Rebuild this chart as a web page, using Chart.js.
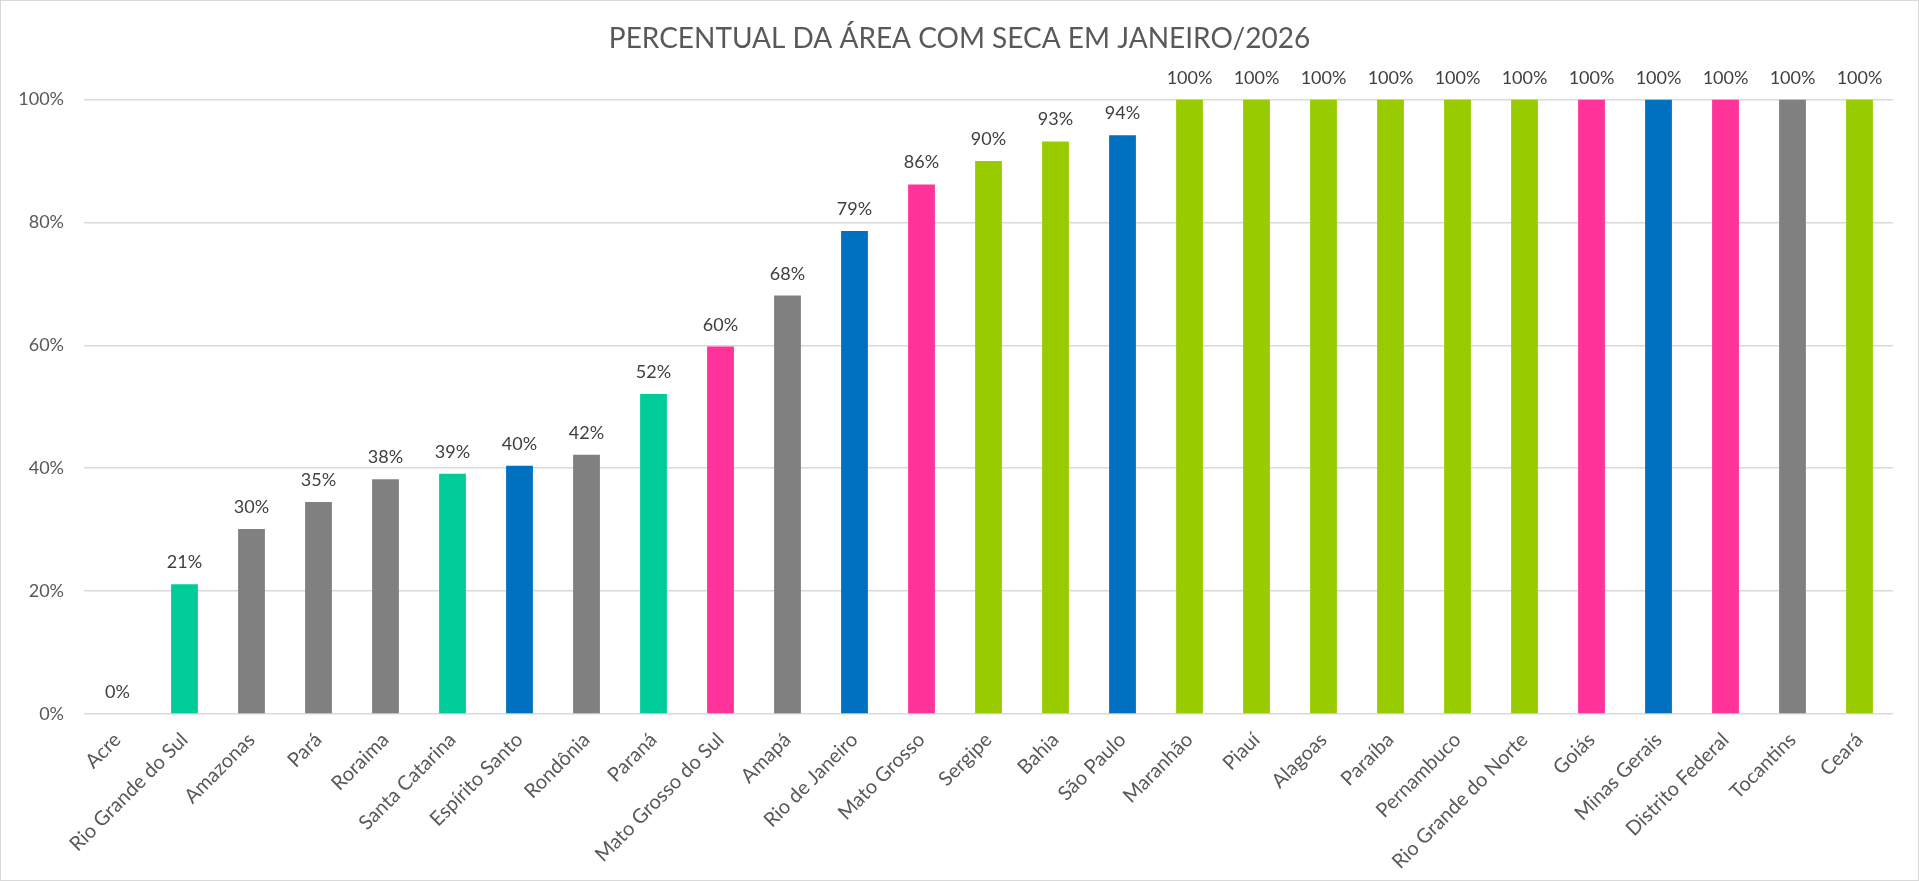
<!DOCTYPE html>
<html>
<head>
<meta charset="utf-8">
<script src="https://cdn.jsdelivr.net/npm/chart.js@4"></script>
<style>
    html, body { margin: 0; padding: 0; background: #fff; }
    #wrap {
        width: 1919px;
        height: 881px;
        box-sizing: border-box;
        border: 1px solid #d9d9d9;
    }
</style>
</head>
<body>
<div id="wrap"><canvas id="myChart"></canvas></div>
<script>
const states = [
    'Acre', 'Rio Grande do Sul', 'Amazonas', 'Pará', 'Roraima', 'Santa Catarina',
    'Espírito Santo', 'Rondônia', 'Paraná', 'Mato Grosso do Sul', 'Amapá',
    'Rio de Janeiro', 'Mato Grosso', 'Sergipe', 'Bahia', 'São Paulo', 'Maranhão',
    'Piauí', 'Alagoas', 'Paraíba', 'Pernambuco', 'Rio Grande do Norte', 'Goiás',
    'Minas Gerais', 'Distrito Federal', 'Tocantins', 'Ceará'
];

// % of area with drought
const drought = [
    0, 21.1, 30.1, 34.5, 38.2, 39.1,
    40.4, 42.2, 52.1, 59.8, 68.1,
    78.6, 86.2, 90.0, 93.2, 94.2, 100,
    100, 100, 100, 100, 100, 100,
    100, 100, 100, 100
];

// region of each state
const regions = [
    'N', 'S', 'N', 'N', 'N', 'S',
    'SE', 'N', 'S', 'CO', 'N',
    'SE', 'CO', 'NE', 'NE', 'SE', 'NE',
    'NE', 'NE', 'NE', 'NE', 'NE', 'CO',
    'SE', 'CO', 'N', 'NE'
];

const yTicks = [0, 20, 40, 60, 80, 100];

const regionColors = {
    N: '#808080',
    S: '#00cc99',
    SE: '#0070c0',
    CO: '#ff3399',
    NE: '#99cc00'
};

const FONT = 'Lato';

// draws the value above every bar
const barLabels = {
    id: 'barLabels',
    afterDatasetsDraw(chart) {
        const ctx = chart.ctx;
        const meta = chart.getDatasetMeta(0);
        ctx.save();
        ctx.font = '18px ' + FONT;
        ctx.fillStyle = '#404040';
        ctx.textAlign = 'center';
        ctx.textBaseline = 'alphabetic';
        meta.data.forEach((bar, i) => {
            ctx.fillText(Math.round(drought[i]) + '%', bar.x, bar.y - 16);
        });
        ctx.restore();
    }
};

const ctx = document.getElementById('myChart').getContext('2d');

new Chart(ctx, {
    type: 'bar',
    data: {
        labels: states,
        datasets: [{
            data: drought,
            backgroundColor: regions.map(r => regionColors[r]),
            barPercentage: 0.4,
            categoryPercentage: 1
        }]
    },
    options: {
        responsive: true,
        maintainAspectRatio: false,
        animation: false,
        layout: {
            padding: 0
        },
        plugins: {
            legend: { display: false },
            tooltip: { enabled: false },
            title: {
                display: true,
                text: 'PERCENTUAL DA ÁREA COM SECA EM JANEIRO/2026',
                color: '#595959',
                font: { family: FONT, size: 28, weight: 'normal' },
                padding: { top: 21, bottom: 44 }
            }
        },
        scales: {
            x: {
                grid: { display: false },
                border: { display: false },
                ticks: {
                    color: '#595959',
                    font: { family: FONT, size: 20 },
                    minRotation: 45,
                    maxRotation: 45,
                    autoSkip: false,
                    padding: 6
                },
                afterFit(scale) { scale.height = 166; }
            },
            y: {
                min: 0,
                max: 100,
                afterBuildTicks(scale) {
                    scale.ticks = yTicks.map(v => ({ value: v }));
                },
                grid: { color: '#d9d9d9', lineWidth: 1.5, drawTicks: false },
                border: { display: false },
                ticks: {
                    color: '#595959',
                    font: { family: FONT, size: 18 },
                    padding: 20,
                    callback: v => v + '%'
                },
                afterFit(scale) { scale.width = 83; }
            },
            // empty right gutter so the title stays centred on the canvas
            yRight: {
                position: 'right',
                min: 0,
                max: 100,
                grid: { display: false },
                border: { display: false },
                ticks: { display: false },
                afterFit(scale) { scale.width = 25; }
            }
        }
    },
    plugins: [barLabels]
});
</script>
</body>
</html>
